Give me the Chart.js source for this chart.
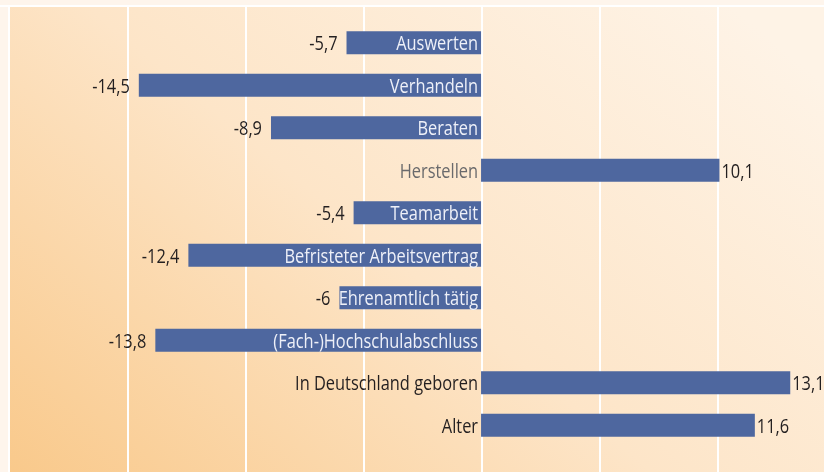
<!DOCTYPE html>
<html>
<head>
<meta charset="utf-8">
<script src="https://cdn.jsdelivr.net/npm/chart.js@4/dist/chart.umd.min.js"></script>
<style>
  html, body { margin: 0; padding: 0; background: #fef5ec; }
  #wrap { width: 824px; height: 472px; position: relative; }
</style>
</head>
<body>
<div id="wrap"><canvas id="myChart"></canvas></div>
<script>
// categories, top to bottom
var categories = ['Auswerten', 'Verhandeln', 'Beraten', 'Herstellen', 'Teamarbeit',
  'Befristeter Arbeitsvertrag', 'Ehrenamtlich tätig', '(Fach-)Hochschulabschluss',
  'In Deutschland geboren', 'Alter'];
// bar values
var values = [-5.7, -14.5, -8.9, 10.1, -5.4, -12.4, -6, -13.8, 13.1, 11.6];
// where the white vertical lines go
var gridTicks = [-15, -10, -5, 0, 5, 10];

var FONT = "'Open Sans', 'Noto Sans', sans-serif";

function fmt(v) {
  return String(v).replace('.', ',');
}

// background gradient + white grid, drawn from the x scale
var backdrop = {
  id: 'backdrop',
  beforeDraw: function(chart) {
    var c = chart.ctx, x = chart.scales.x;
    var w = chart.width, h = chart.height;
    var left = x.getPixelForValue(-20);
    c.save();
    var g = c.createLinearGradient(left, h, left + 520, -160);
    g.addColorStop(0, '#f9c98b');
    g.addColorStop(0.5, '#fde5c8');
    g.addColorStop(1, '#fef3e6');
    c.fillStyle = g;
    c.fillRect(left, 6, w - left, h - 6);
    c.strokeStyle = '#ffffff';
    c.lineWidth = 2;
    c.beginPath();
    c.moveTo(0, 6); c.lineTo(w, 6);
    c.moveTo(left, 6); c.lineTo(left, h);
    gridTicks.forEach(function(t) {
      var px = Math.round(x.getPixelForValue(t)) + 1;
      c.moveTo(px, 6); c.lineTo(px, h);
    });
    c.stroke();
    c.restore();
  }
};

// narrow text: the original uses a condensed face, so squeeze horizontally
function squeezeText(c, txt, x, y, align, sx) {
  c.save();
  c.translate(x, y);
  c.scale(sx, 1);
  c.textAlign = align;
  c.fillText(txt, 0, 0);
  c.restore();
}

// category names at the zero line, values at bar ends
var barLabels = {
  id: 'barLabels',
  afterDatasetsDraw: function(chart) {
    var c = chart.ctx;
    var zero = chart.scales.x.getPixelForValue(0);
    var meta = chart.getDatasetMeta(0);
    c.save();
    c.font = '20px ' + FONT;
    c.textBaseline = 'alphabetic';
    var sx = 183 / c.measureText('In Deutschland geboren').width;
    meta.data.forEach(function(bar, i) {
      var v = values[i];
      var y = bar.y + 7.5;
      if (v < 0) c.fillStyle = '#eef0f8';
      else if (categories[i] === 'Herstellen') c.fillStyle = '#6a6a6c';
      else c.fillStyle = '#231f20';
      squeezeText(c, categories[i], zero - 3, y, 'right', sx);
      c.fillStyle = '#231f20';
      if (v < 0) squeezeText(c, fmt(v), bar.x - 9, y, 'right', sx);
      else squeezeText(c, fmt(v), bar.x + 2, y, 'left', sx);
    });
    c.restore();
  }
};

var ctx = document.getElementById('myChart');
var myChart = new Chart(ctx, {
  type: 'bar',
  data: {
    labels: categories,
    datasets: [{
      data: values,
      backgroundColor: '#4e679f',
      borderWidth: 0,
      barPercentage: 0.54,
      categoryPercentage: 1
    }]
  },
  options: {
    indexAxis: 'y',
    responsive: true,
    maintainAspectRatio: false,
    animation: false,
    layout: { padding: { left: 9, top: 21.5, bottom: 25.4, right: 0 } },
    plugins: { legend: { display: false }, tooltip: { enabled: false } },
    scales: {
      x: { type: 'linear', min: -20, max: 14.53, display: false },
      y: { display: false }
    }
  },
  plugins: [backdrop, barLabels]
});
</script>
</body>
</html>
